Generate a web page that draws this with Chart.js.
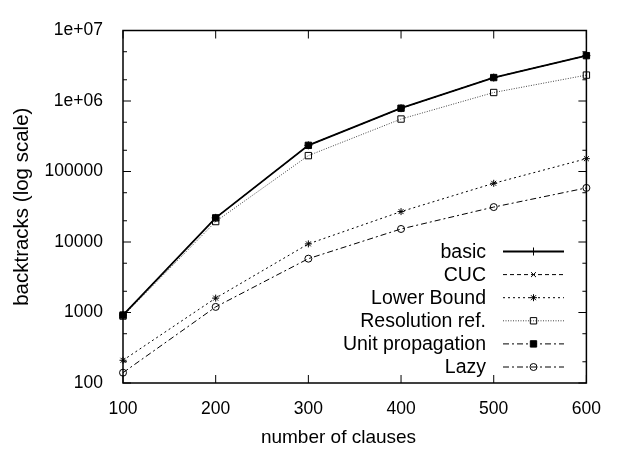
<!DOCTYPE html>
<html>
<head>
<meta charset="utf-8">
<script src="https://cdn.jsdelivr.net/npm/chart.js@4.4.0/dist/chart.umd.min.js"></script>
<style>
  html, body { margin: 0; padding: 0; background: #fff; }
  #wrap { width: 617px; height: 449px; }
</style>
</head>
<body>
<div id="wrap"><canvas id="chart" width="617" height="449"></canvas></div>
<script>
// number of clauses
var clauses = [100, 200, 300, 400, 500, 600];
// backtracks for each method
var basic = [920, 22000, 235000, 790000, 2150000, 4400000];
var cuc = [920, 22000, 235000, 790000, 2150000, 4400000];
var lowerBound = [210, 1600, 9400, 27000, 68000, 152000];
var resolutionRef = [890, 19500, 168000, 555000, 1320000, 2330000];
var unitPropagation = [920, 22000, 235000, 790000, 2150000, 4400000];
var lazy = [140, 1200, 5800, 15300, 31300, 58500];
var yTicks = [100, 1000, 10000, 100000, 1000000, 10000000];
var xTitle = 'number of clauses';

var FONT = 'Liberation Sans, Arial, sans-serif';

function pts(arr) {
    var out = [];
    for (var i = 0; i < arr.length; i++) out.push({x: clauses[i], y: arr[i]});
    return out;
}

function series(label, data, dash, style, radius, fill, width, color) {
    return {
        label: label,
        data: pts(data),
        borderColor: color || '#000',
        borderWidth: width || 1,
        borderDash: dash,
        pointStyle: style,
        pointRadius: radius,
        pointBorderWidth: 1,
        pointBorderColor: '#000',
        pointBackgroundColor: fill,
        backgroundColor: fill,
        fill: false,
        tension: 0,
        clip: false
    };
}

// gnuplot style frame with inward ticks, x title and the legend
var framePlugin = {
    id: 'frame',
    afterDatasetsDraw: function(chart) {
        var ctx = chart.ctx, a = chart.chartArea;
        var xs = chart.scales.x, ys = chart.scales.y;
        ctx.save();
        ctx.strokeStyle = '#000';
        ctx.lineWidth = 1.5;
        ctx.setLineDash([]);
        ctx.strokeRect(a.left, a.top, a.right - a.left, a.bottom - a.top);
        ctx.lineWidth = 1;
        ctx.beginPath();
        clauses.forEach(function(v) {
            var px = xs.getPixelForValue(v);
            ctx.moveTo(px, a.bottom); ctx.lineTo(px, a.bottom - 8);
            ctx.moveTo(px, a.top); ctx.lineTo(px, a.top + 8);
        });
        for (var k = 2; k <= 7; k++) {
            var base = Math.pow(10, k);
            [1, 2, 5].forEach(function(m) {
                var v = base * m;
                if (v > 1e7) return;
                var len = m === 1 ? 8 : 4;
                var py = ys.getPixelForValue(v);
                ctx.moveTo(a.left, py); ctx.lineTo(a.left + len, py);
                ctx.moveTo(a.right, py); ctx.lineTo(a.right - len, py);
            });
        }
        ctx.stroke();

        ctx.fillStyle = '#000';
        ctx.textBaseline = 'middle';
        ctx.textAlign = 'center';
        ctx.font = '19px ' + FONT;
        ctx.fillText(xTitle, 338.5, 438);

        // legend
        ctx.font = '19.5px ' + FONT;
        ctx.textAlign = 'right';
        chart.data.datasets.forEach(function(ds, i) {
            var y = 251.5 + i * 23.1;
            ctx.fillText(ds.label, 486, y + 1);
            ctx.strokeStyle = ds.borderColor;
            ctx.lineWidth = ds.borderWidth;
            ctx.setLineDash(ds.borderDash || []);
            ctx.beginPath();
            ctx.moveTo(503, y); ctx.lineTo(564, y);
            ctx.stroke();
            ctx.setLineDash([]);
            ctx.strokeStyle = '#000';
            ctx.lineWidth = 1;
            ctx.fillStyle = ds.pointBackgroundColor;
            Chart.helpers.drawPoint(ctx, {pointStyle: ds.pointStyle, radius: ds.pointRadius, borderWidth: 1}, 533.5, y);
            ctx.fillStyle = '#000';
        });
        ctx.restore();
    }
};

new Chart(document.getElementById('chart'), {
    type: 'line',
    data: {
        datasets: [
            series('basic', basic, [], 'cross', 4, '#000', 1.8),
            series('CUC', cuc, [4, 3], 'crossRot', 3.5, '#000', 1),
            series('Lower Bound', lowerBound, [2, 3], 'star', 3.5, '#000', 1),
            series('Resolution ref.', resolutionRef, [1, 1.5], 'rect', 4.5, 'rgba(0,0,0,0)', 1, '#444'),
            series('Unit propagation', unitPropagation, [6, 3, 2, 3], 'rect', 4.5, '#000', 1),
            series('Lazy', lazy, [6, 3, 2, 3], 'circle', 3.5, 'rgba(0,0,0,0)', 1)
        ]
    },
    options: {
        responsive: false,
        animation: false,
        layout: { padding: { top: 13, right: 25, left: 0, bottom: 0 } },
        plugins: {
            legend: { display: false },
            tooltip: { enabled: false }
        },
        scales: {
            x: {
                type: 'linear',
                min: 100,
                max: 600,
                grid: { display: false, drawTicks: false },
                border: { display: false },
                afterBuildTicks: function(s) { s.ticks = clauses.map(function(v) { return {value: v}; }); },
                afterFit: function(s) { s.height = 66; },
                ticks: { color: '#000', font: { family: FONT, size: 17.5 }, padding: 16, maxRotation: 0 },
                title: { display: false }
            },
            y: {
                type: 'logarithmic',
                min: 100,
                max: 10000000,
                grid: { display: false, drawTicks: false },
                border: { display: false },
                afterBuildTicks: function(s) { s.ticks = yTicks.map(function(v) { return {value: v}; }); },
                afterFit: function(s) { s.width = 123; },
                ticks: {
                    color: '#000',
                    font: { family: FONT, size: 17.5 },
                    padding: 20,
                    callback: function(v) {
                        var e = Math.round(Math.log10(v));
                        return v >= 1000000 ? '1e+0' + e : String(v);
                    }
                },
                title: { display: true, text: 'backtracks (log scale)', color: '#000', font: { family: FONT, size: 20.5 }, padding: { top: 10, bottom: 0 } }
            }
        }
    },
    plugins: [framePlugin]
});
</script>
</body>
</html>
